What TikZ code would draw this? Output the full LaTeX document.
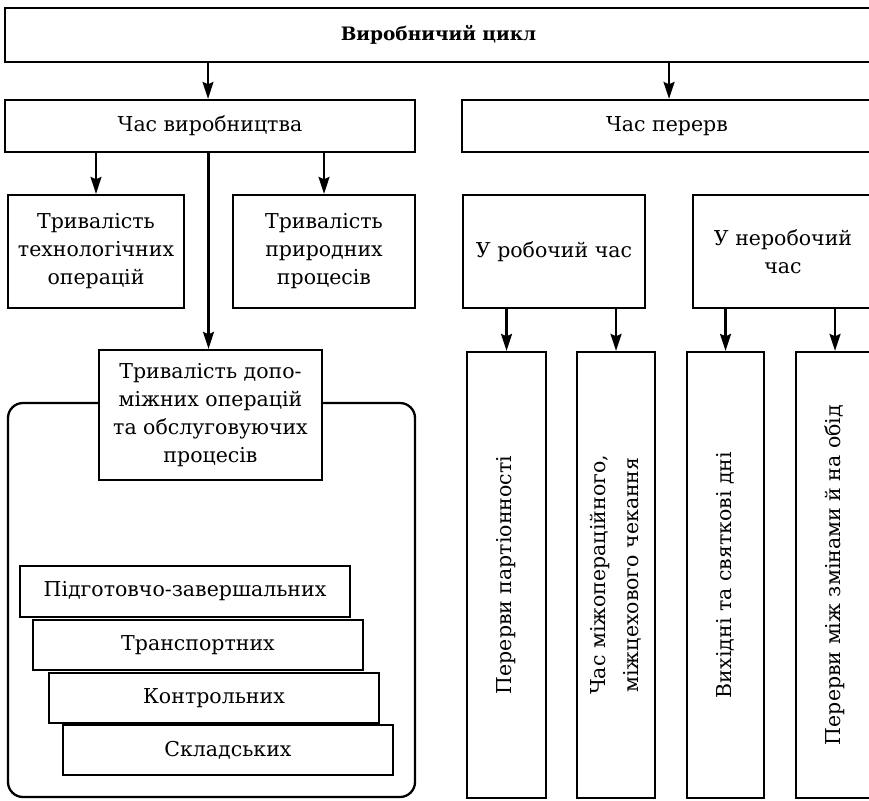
\documentclass[tikz,border=0pt]{standalone}
\usepackage{fontspec}
\setmainfont{DejaVu Serif}
\usepackage{graphicx}
\usetikzlibrary{arrows.meta}
\begin{document}
\begin{tikzpicture}[x=1pt,y=-1pt,
  box/.style={draw, line width=2.3pt, fill=white, inner sep=0pt, align=center,
    font=\fontsize{20.5}{28}\selectfont},
  stackbox/.style={box, minimum width=330pt},
  vbox/.style={box, minimum height=446pt},
  arr/.style={line width=2.3pt, -{Stealth[length=17pt,width=11pt,inset=2.5pt]}},
  ln/.style={line width=2.3pt}]
\useasboundingbox (0,0) rectangle (869,800);
\fill[white] (0,0) rectangle (869,800);
\begin{scope}
\clip (0,0) rectangle (869,800);
% rounded container
\draw[ln, rounded corners=15pt] (8,403) rectangle (415,797);
% top level
\node[box, minimum width=867pt, minimum height=54pt, font=\fontsize{18.5}{26}\selectfont\bfseries] (top) at (438.5,35) {Виробничий цикл};
\node[box, minimum width=410pt, minimum height=52pt] (prod) at (210,126) {Час виробництва};
\node[box, minimum width=410pt, minimum height=52pt] (brk) at (667,126) {Час перерв};
% production branch
\node[box, minimum width=176pt, minimum height=113pt] (tech) at (96,251.5) {Тривалість\\технологічних\\операцій};
\node[box, minimum width=182pt, minimum height=113pt] (nat) at (324,251.5) {Тривалість\\природних\\процесів};
\node[box, minimum width=223pt, minimum height=130pt] (aux) at (210.5,415) {Тривалість допо-\\міжних операцій\\та обслуговуючих\\процесів};
\node[stackbox, minimum height=51pt] (s1) at (185,591.5) {Підготовчо-завершальних};
\node[stackbox, minimum height=50pt] (s2) at (198,645) {Транспортних};
\node[stackbox, minimum height=50pt] (s3) at (214,698) {Контрольних};
\node[stackbox, minimum height=50pt] (s4) at (228,750) {Складських};
% breaks branch
\node[box, minimum width=182pt, minimum height=113pt] (work) at (554,251.5) {У робочий час};
\node[box, minimum width=180pt, minimum height=113pt] (nonwork) at (783,251.5) {У неробочий\\час};
\node[vbox, minimum width=79pt] (v1) at (506.5,575) {\rotatebox{90}{Перерви партіонності}};
\node[vbox, minimum width=78pt] (v2) at (616,575) {\rotatebox{90}{\begin{tabular}{@{}c@{}}Час міжопераційного,\\[5pt]міжцехового чекання\end{tabular}}};
\node[vbox, minimum width=77pt] (v3) at (725.5,575) {\rotatebox{90}{Вихідні та святкові дні}};
\node[vbox, minimum width=78pt] (v4) at (835,575) {\rotatebox{90}{Перерви між змінами й на обід}};
% connectors
\draw[arr] (prod.north |- top.south) ++(-2,0) coordinate (a1) -- (a1 |- prod.north);
\draw[arr] (brk.north |- top.south) ++(2,0) coordinate (a2) -- (a2 |- brk.north);
\draw[arr] (tech.north |- prod.south) -- (tech.north);
\draw[arr] (nat.north |- prod.south) -- (nat.north);
\draw[arr] (aux.north |- prod.south) ++(-2,0) coordinate (a3) -- (a3 |- aux.north);
\draw[arr] (v1.north |- work.south) -- (v1.north);
\draw[arr] (v2.north |- work.south) -- (v2.north);
\draw[arr] (v3.north |- nonwork.south) -- (v3.north);
\draw[arr] (v4.north |- nonwork.south) -- (v4.north);
\end{scope}
\end{tikzpicture}
\end{document}
